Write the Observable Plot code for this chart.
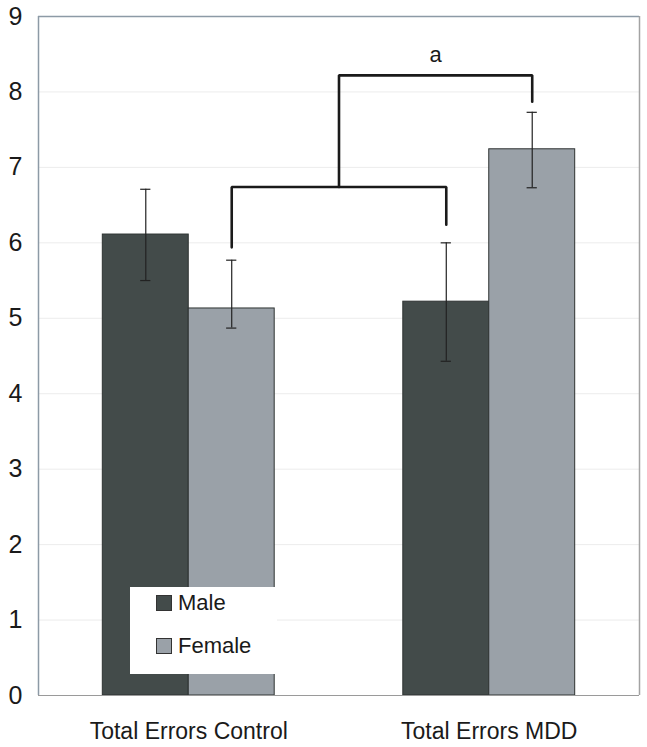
<!DOCTYPE html>
<html>
<head>
<meta charset="utf-8">
<script src="https://cdn.jsdelivr.net/npm/d3@7"></script>
<script src="https://cdn.jsdelivr.net/npm/@observablehq/plot@0.6"></script>
<style>
  html, body { margin: 0; padding: 0; background: #fff; }
  #wrap { position: relative; width: 647px; height: 747px; font-family: "Liberation Sans", Arial, sans-serif; }
  #legend { position: absolute; left: 130px; top: 587px; width: 147px; height: 87px; background: #fff; }
  .item { position: absolute; left: 26px; display: flex; align-items: center; font-size: 22px; color: #1a1a1a; }
  .sw { width: 14px; height: 14px; border: 1px solid #333; margin-right: 6px; }
</style>
</head>
<body>
<div id="wrap"><div id="legend"></div></div>
<script>
// ---- data ----
const groups = ["Total Errors Control", "Total Errors MDD"];
const sexes = ["Male", "Female"];
const means = { Male: [6.11, 5.22], Female: [5.13, 7.24] };
const errLow = { Male: [5.50, 4.43], Female: [4.87, 6.73] };
const errHigh = { Male: [6.71, 6.00], Female: [5.77, 7.73] };
const colors = { Male: "#434b4a", Female: "#9aa1a8" };
const yTicks = [0, 1, 2, 3, 4, 5, 6, 7, 8, 9];
const bracketLow = [5.94, 6.74, 6.24];   // left leg bottom, level, right leg bottom
const bracketHigh = [6.74, 8.22, 7.87];  // start, level, right leg bottom
const sigLabel = "a";

// ---- layout helpers ----
const bw = 0.286;  // bar width in group units
const rows = [];
groups.forEach((g, gi) => {
  sexes.forEach((s, si) => {
    const x1 = gi + 0.5 - bw + si * bw;
    rows.push({group: g, sex: s, x1, x2: x1 + bw, c: x1 + bw / 2,
      v: means[s][gi], lo: errLow[s][gi], hi: errHigh[s][gi]});
  });
});
const center = (g, s) => rows.find(r => r.group === g && r.sex === s).c;
const cCF = center(groups[0], "Female"), cMM = center(groups[1], "Male"), cMF = center(groups[1], "Female");
const lowPts = [[cCF, bracketLow[0]], [cCF, bracketLow[1]], [cMM, bracketLow[1]], [cMM, bracketLow[2]]];
const mid = (cCF + cMM) / 2;
const highPts = [[mid, bracketHigh[0]], [mid, bracketHigh[1]], [cMF, bracketHigh[1]], [cMF, bracketHigh[2]]];
const cap = 0.017;

const chart = Plot.plot({
  width: 647, height: 747,
  marginTop: 16, marginBottom: 52, marginLeft: 38, marginRight: 8,
  style: {fontFamily: "'Liberation Sans', Arial, sans-serif", background: "#fff"},
  x: {domain: [0, 2], axis: null},
  y: {domain: [0, 9], axis: null},
  marks: [
    Plot.ruleY(yTicks.filter(t => t > 0 && t < 9), {stroke: "#ececec", strokeWidth: 1}),
    Plot.rectY(rows, {x1: "x1", x2: "x2", y: "v", fill: d => colors[d.sex], stroke: "#2e3332", strokeWidth: 1}),
    Plot.ruleX(rows, {x: "c", y1: "lo", y2: "hi", stroke: "#222", strokeWidth: 1.2}),
    Plot.ruleY(rows, {y: "lo", x1: d => d.c - cap, x2: d => d.c + cap, stroke: "#222", strokeWidth: 1.2}),
    Plot.ruleY(rows, {y: "hi", x1: d => d.c - cap, x2: d => d.c + cap, stroke: "#222", strokeWidth: 1.2}),
    Plot.line(lowPts, {stroke: "#1a1a1a", strokeWidth: 2.6, strokeLinejoin: "miter"}),
    Plot.line(highPts, {stroke: "#1a1a1a", strokeWidth: 2.6, strokeLinejoin: "miter"}),
    Plot.text([sigLabel], {x: (mid + cMF) / 2, y: bracketHigh[1], dy: -20, text: d => d, fontSize: 22, fill: "#1a1a1a"}),
    // frame
    Plot.ruleX([0], {stroke: "#8d9aa6", strokeWidth: 1.5}),
    Plot.ruleY([9], {stroke: "#8d9aa6", strokeWidth: 1.5}),
    Plot.ruleX([2], {stroke: "#a3a3a3", strokeWidth: 1.5}),
    Plot.ruleY([0], {stroke: "#9a9a9a", strokeWidth: 1.2}),
    // y tick labels
    Plot.text(yTicks, {y: d => d, frameAnchor: "left", dx: -16, textAnchor: "end", text: d => String(d), fontSize: 25, fill: "#1a1a1a"}),
    // category labels
    Plot.text(groups, {x: (d, i) => i + 0.5, frameAnchor: "bottom", lineAnchor: "middle", dy: 36, text: d => d, fontSize: 23, fill: "#1a1a1a"})
  ]
});
document.getElementById("wrap").prepend(chart);

const leg = document.getElementById("legend");
sexes.forEach((s, i) => {
  const it = document.createElement("div");
  it.className = "item";
  it.style.top = (i === 0 ? 3 : 46) + "px";
  it.innerHTML = `<div class="sw" style="background:${colors[s]}"></div><span>${s}</span>`;
  leg.appendChild(it);
});
</script>
</body>
</html>
